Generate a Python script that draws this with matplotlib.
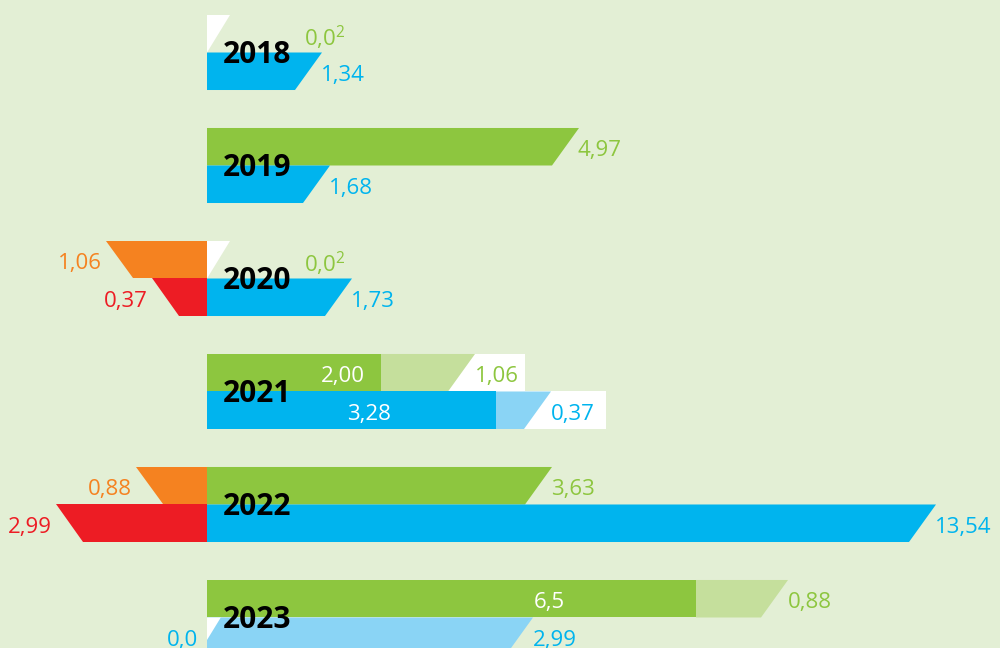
import matplotlib
matplotlib.use('Agg')
import matplotlib.pyplot as plt
from matplotlib.patches import Polygon

# data (labels as printed in the source, bar lengths as drawn in the infographic)
years = ['2018', '2019', '2020', '2021', '2022', '2023']

green_labels = ['0,0$^{2}$', '4,97', '0,0$^{2}$', '2,00', '3,63', '6,5']
green_len = [0, 345, 0, 174, 318, 489]
lgreen_labels = ['', '', '', '1,06', '', '0,88']
lgreen_len = [0, 0, 0, 67, 0, 65]

blue_labels = ['1,34', '1,68', '1,73', '3,28', '13,54', '0,0']
blue_len = [88, 96, 118, 289, 702, 0]
lblue_labels = ['', '', '', '0,37', '', '2,99']
lblue_len = [0, 0, 0, 28, 0, 299]

orange_labels = ['', '', '1,06', '', '0,88', '']
orange_len = [0, 0, 74, 0, 44, 0]
red_labels = ['', '', '0,37', '', '2,99', '']
red_len = [0, 0, 28, 0, 124, 0]

# colours
BG = '#e3efd5'
GREEN = '#8dc63f'
LGREEN = '#c5df9c'
BLUE = '#00b4ee'
LBLUE = '#8ad4f5'
ORANGE = '#f58220'
RED = '#ed1c24'

# layout
H = 0.332          # row height (one year group = 1 unit)
SLANT = 27         # horizontal offset of the slanted bar tip
TRI = 23           # width of the white tip drawn for zero values
DY = 0.035         # nudge labels down a bit
inner_pos = {(3, 'top'): 0.78, (3, 'bot'): 0.56, (5, 'top'): 0.70}
white_box = {3: (50, 55)}
FS = 16
FONT = 'Open Sans'
LW = 'normal'

plt.rcParams['mathtext.fontset'] = 'custom'
plt.rcParams['mathtext.rm'] = 'Open Sans'
plt.rcParams['mathtext.default'] = 'rm'

fig = plt.figure(figsize=(10, 6.48), dpi=100, facecolor=BG)
ax = fig.add_axes([0, 0, 1, 1])
ax.set_facecolor(BG)
ax.set_xlim(-207, 793)
ax.set_ylim(5.270, -0.4646)
ax.axis('off')


def pos_row(i, yt, yb, main, extra, col, lcol, z):
    total = main + extra
    # white box behind the outer label
    if i in white_box:
        w = white_box[i][0 if z == 'top' else 1]
        ax.add_patch(Polygon([(0, yt), (total + SLANT + w, yt), (total + SLANT + w, yb), (0, yb)],
                             closed=True, fc='white', ec='none', zorder=1))
    if extra > 0:
        ax.add_patch(Polygon([(main, yt), (total + SLANT, yt), (total, yb), (main, yb)],
                             closed=True, fc=lcol, ec='none', zorder=2))
        if main > 0:
            ax.add_patch(Polygon([(0, yt), (main, yt), (main, yb), (0, yb)],
                                 closed=True, fc=col, ec='none', zorder=3))
    elif main > 0:
        ax.add_patch(Polygon([(0, yt), (main + SLANT, yt), (main, yb), (0, yb)],
                             closed=True, fc=col, ec='none', zorder=3))
    if main == 0:
        tri = TRI if extra == 0 else TRI * 0.6
        ax.add_patch(Polygon([(0, yt), (tri, yt), (0, yt + (yb - yt) * (1 if extra == 0 else 0.6))],
                             closed=True, fc='white', ec='none', zorder=4))


def neg_row(yt, yb, length, col):
    if length > 0:
        ax.add_patch(Polygon([(-length - SLANT, yt), (0, yt), (0, yb), (-length, yb)],
                             closed=True, fc=col, ec='none', zorder=3))


for i, yr in enumerate(years):
    top_t, top_b = i - H, i
    bot_t, bot_b = i, i + H
    pos_row(i, top_t, top_b, green_len[i], lgreen_len[i], GREEN, LGREEN, 'top')
    pos_row(i, bot_t, bot_b, blue_len[i], lblue_len[i], BLUE, LBLUE, 'bot')
    neg_row(top_t, top_b, orange_len[i], ORANGE)
    neg_row(bot_t, bot_b, red_len[i], RED)

    rows = [('top', top_t, top_b, green_len[i], lgreen_len[i], green_labels[i], lgreen_labels[i], GREEN),
            ('bot', bot_t, bot_b, blue_len[i], lblue_len[i], blue_labels[i], lblue_labels[i], BLUE)]
    for z, yt, yb, main, extra, lab, elab, col in rows:
        yc = (yt + yb) / 2 + DY
        if extra > 0:
            if main > 0:
                ax.text(main * inner_pos[(i, z)], yc, lab, color='white', fontsize=FS,
                        family=FONT, weight=LW, ha='center', va='center', zorder=6)
            else:
                ax.text(-9, yc, lab, color=col, fontsize=FS, family=FONT, weight=LW,
                        ha='right', va='center', zorder=6)
            ax.text(main + extra + SLANT, yc, elab, color=col, fontsize=FS,
                    family=FONT, weight=LW, ha='left', va='center', zorder=6)
        elif main > 0:
            ax.text(main + SLANT - 1, yc, lab, color=col, fontsize=FS,
                    family=FONT, weight=LW, ha='left', va='center', zorder=6)
        else:
            ax.text(97, yc, lab, color=col, fontsize=FS, family=FONT, weight=LW,
                    ha='left', va='center', zorder=6)

    for lab, length, yt, yb, col in [(orange_labels[i], orange_len[i], top_t, top_b, ORANGE),
                                     (red_labels[i], red_len[i], bot_t, bot_b, RED)]:
        if length > 0:
            ax.text(-length - SLANT - 4, (yt + yb) / 2 + DY, lab, color=col, fontsize=FS,
                    family=FONT, weight=LW, ha='right', va='center', zorder=6)

    ax.text(16, i + 0.025, yr, color='black', fontsize=21.5, fontweight='bold',
            family=FONT, ha='left', va='center', zorder=7)

fig.savefig('out.png', dpi=100, facecolor=BG)
